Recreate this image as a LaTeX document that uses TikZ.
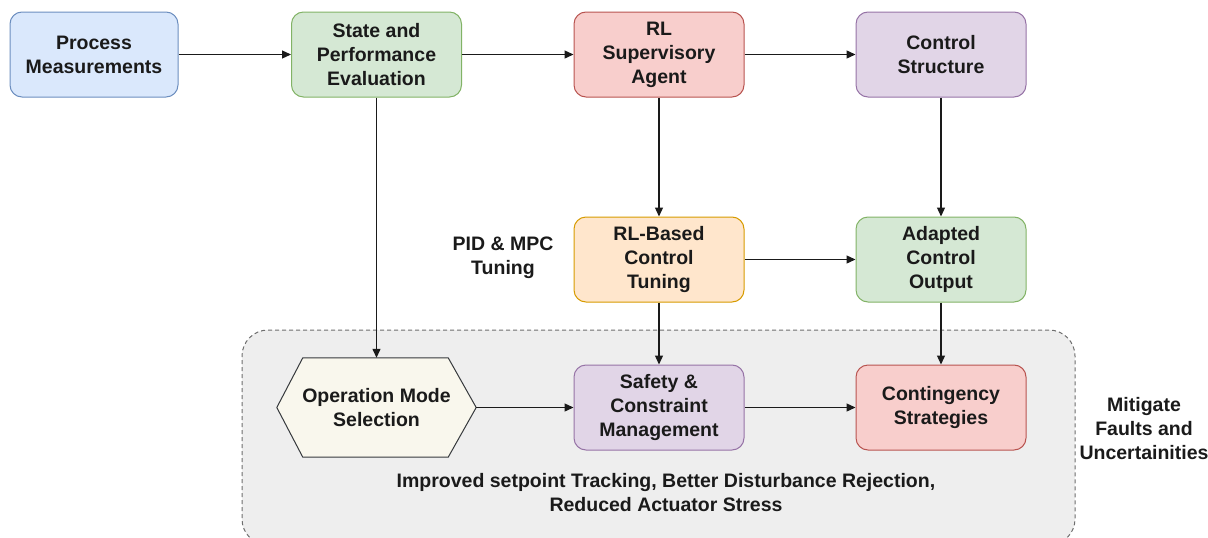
\documentclass[tikz,border=0pt]{standalone}
\usepackage{fontspec}
\setmainfont{Liberation Sans}
\usetikzlibrary{arrows.meta}
\definecolor{blueF}{HTML}{DAE8FC}\definecolor{blueS}{HTML}{6C8EBF}
\definecolor{greenF}{HTML}{D5E8D4}\definecolor{greenS}{HTML}{82B366}
\definecolor{redF}{HTML}{F8CECC}\definecolor{redS}{HTML}{B85450}
\definecolor{purpF}{HTML}{E1D5E7}\definecolor{purpS}{HTML}{9673A6}
\definecolor{orF}{HTML}{FFE6CC}\definecolor{orS}{HTML}{D79B00}
\definecolor{hexF}{HTML}{F9F7ED}\definecolor{hexS}{HTML}{36393D}
\definecolor{contF}{HTML}{EEEEEE}\definecolor{contS}{HTML}{6E6E6E}
\definecolor{txt}{HTML}{1A1A1A}
\begin{document}
\begin{tikzpicture}[x=1pt,y=-1pt,
  lbl/.style={align=center, font=\fontsize{19.5}{24}\selectfont\bfseries, text=txt, inner sep=0pt},
  box/.style={lbl, draw, rounded corners=12pt, line width=1pt, minimum width=170pt, minimum height=85pt},
  arr/.style={-{Triangle[length=9pt,width=8pt]}, line width=1.3pt, draw=txt},
  cont/.style={draw=contS, fill=contF, dash pattern=on 4pt off 3pt, line width=1pt, rounded corners=26pt, minimum width=833pt, minimum height=215pt, inner sep=0pt}]
\useasboundingbox (0,0) rectangle (1208,538);
\node[cont] (container) at (658.5,437.5) {};
\node[box, fill=blueF, draw=blueS, minimum width=168pt] (pm) at (94,54.5) {Process\\Measurements};
\node[box, fill=greenF, draw=greenS] (spe) at (376.5,54.5) {State and\\Performance\\Evaluation};
\node[box, fill=redF, draw=redS] (rl) at (659,54.5) {RL\\Supervisory\\Agent};
\node[box, fill=purpF, draw=purpS] (cs) at (941,54.5) {Control\\Structure};
\node[box, fill=orF, draw=orS] (rlt) at (659,259.5) {RL-Based\\Control\\Tuning};
\node[box, fill=greenF, draw=greenS] (aco) at (941,259.5) {Adapted\\Control\\Output};
\node[box, fill=purpF, draw=purpS] (scm) at (659,407.5) {Safety \&\\Constraint\\Management};
\node[box, fill=redF, draw=redS] (cst) at (941,407.5) {Contingency\\Strategies};
\node[lbl, minimum width=199pt, minimum height=99pt] (oms) at (376.5,407.5) {Operation Mode\\Selection};
\begin{scope}[on background layer/.style={}]
\end{scope}
\fill[hexF] (oms.west) -- ([xshift=26pt]oms.north west) -- ([xshift=-28pt]oms.north east) -- (oms.east) -- ([xshift=-28pt]oms.south east) -- ([xshift=26pt]oms.south west) -- cycle;
\draw[hexS, line width=1pt, line join=round] (oms.west) -- ([xshift=26pt]oms.north west) -- ([xshift=-28pt]oms.north east) -- (oms.east) -- ([xshift=-28pt]oms.south east) -- ([xshift=26pt]oms.south west) -- cycle;
\node[lbl] (omsText) at (oms.center) {Operation Mode\\Selection};
\node[lbl] (pid) at (503,258) {PID \& MPC\\Tuning};
\node[lbl] (impr) at (666,493) {Improved setpoint Tracking, Better Disturbance Rejection,\\Reduced Actuator Stress};
\node[lbl] (mit) at (1144,429) {Mitigate\\Faults and\\Uncertainities};
\draw[arr] (pm) -- (spe);
\draw[arr] (spe) -- (rl);
\draw[arr] (rl) -- (cs);
\draw[arr] (spe.south) -- (oms.north);
\draw[arr] (rl) -- (rlt);
\draw[arr] (cs) -- (aco);
\draw[arr] (rlt) -- (aco);
\draw[arr] (rlt) -- (scm);
\draw[arr] (aco) -- (cst);
\draw[arr] (oms.east) -- (scm.west);
\draw[arr] (scm) -- (cst);
\end{tikzpicture}
\end{document}
